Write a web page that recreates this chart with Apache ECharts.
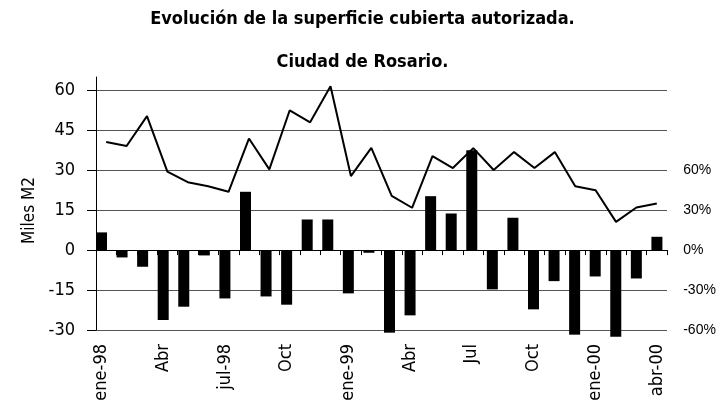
<!DOCTYPE html>
<html>
<head>
<meta charset="utf-8">
<script src="https://cdn.jsdelivr.net/npm/echarts@6/dist/echarts.min.js"></script>
<style>html,body{margin:0;padding:0;background:#fff;}#c{width:725px;height:404px;}</style>
</head>
<body>
<div id="c"></div>
<script>
const months = ['ene-98','feb-98','mar-98','Abr','may-98','jun-98','jul-98','ago-98','sep-98','Oct','nov-98','dic-98',
  'ene-99','feb-99','mar-99','Abr','may-99','jun-99','Jul','ago-99','sep-99','Oct','nov-99','dic-99',
  'ene-00','feb-00','mar-00','abr-00'];
// Miles M2 (left axis)
const superficie = [40.6, 39.1, 50.3, 29.5, 25.5, 24.0, 21.9, 41.9, 30.3, 52.5, 48.0, 61.5,
  27.8, 38.4, 20.4, 15.9, 35.3, 30.8, 38.3, 30.1, 36.8, 30.8, 36.8, 24.0, 22.5, 10.6, 16.0, 17.5];
// variación % (right axis)
const variacion = [13.3, -5.5, -12.5, -52.5, -42.5, -4, -36.3, 43.8, -34.8, -41, 23, 23,
  -32.5, -2, -62, -49, 40.5, 27.5, 75, -29.5, 24.3, -44.5, -23.3, -63.5, -19.8, -65, -21.3, 10];
const leftTicks = [-30, -15, 0, 15, 30, 45, 60];
const rightTicks = [-60, -30, 0, 30, 60];

const narrow = "'Liberation Sans Narrow','Arial Narrow','DejaVu Sans Condensed',sans-serif";
const chart = echarts.init(document.getElementById('c'));
chart.setOption({
  animation: false,
  backgroundColor: '#fff',
  title: [
    {text: 'Evolución de la superficie cubierta autorizada.', left: 'center', top: 5,
     textStyle: {fontFamily: narrow, fontWeight: 'bold', fontSize: 18, color: '#000'}},
    {text: 'Ciudad de Rosario.', left: 'center', top: 48,
     textStyle: {fontFamily: narrow, fontWeight: 'bold', fontSize: 18, color: '#000'}}
  ],
  grid: [
    {left: 96, right: 58, top: 77, bottom: 74},
    {left: 91.2, right: 57.8, top: 77, bottom: 74}
  ],
  xAxis: [
    {type: 'category', gridIndex: 0, data: months, boundaryGap: true,
     axisLine: {show: true, onZero: true, lineStyle: {color: '#000', width: 1}},
     axisTick: {show: true, interval: 0, length: 5, lineStyle: {color: '#000'}},
     axisLabel: {show: false}, splitLine: {show: false}},
    {type: 'category', gridIndex: 1, data: months, boundaryGap: true, position: 'bottom',
     axisLine: {show: false, onZero: false}, axisTick: {show: false},
     axisLabel: {interval: 2, rotate: 90, margin: 14, fontFamily: narrow, fontSize: 18, color: '#000'},
     splitLine: {show: false}}
  ],
  yAxis: [
    {type: 'value', gridIndex: 0, min: -30, max: 65, interval: 15,
     name: 'Miles M2', nameLocation: 'middle', nameGap: 50,
     nameTextStyle: {fontFamily: narrow, fontSize: 17, color: '#000', padding: [0, 14, 0, 0]},
     axisLine: {show: true, lineStyle: {color: '#000', width: 1}},
     axisTick: {show: true, length: 9, customValues: leftTicks, lineStyle: {color: '#000'}},
     axisLabel: {margin: 21, fontFamily: narrow, fontSize: 18, color: '#000', customValues: leftTicks},
     splitLine: {show: true, lineStyle: {color: '#555', width: 1}}},
    {type: 'value', gridIndex: 1, min: -60, max: 130, interval: 30, position: 'right',
     axisLine: {show: false}, axisTick: {show: false}, splitLine: {show: false},
     axisLabel: {margin: 16, fontFamily: "'Liberation Sans',Arial,sans-serif", fontSize: 14, color: '#000',
       padding: [0, 0, 5, 0], customValues: rightTicks, formatter: v => v + '%'}}
  ],
  series: [
    {type: 'bar', xAxisIndex: 1, yAxisIndex: 1, data: variacion, barWidth: 11, clip: false,
     itemStyle: {color: '#000'}, z: 2},
    {type: 'line', xAxisIndex: 0, yAxisIndex: 0, data: superficie, showSymbol: false, symbol: 'none',
     lineStyle: {color: '#000', width: 2}, z: 3}
  ]
});
</script>
</body>
</html>
